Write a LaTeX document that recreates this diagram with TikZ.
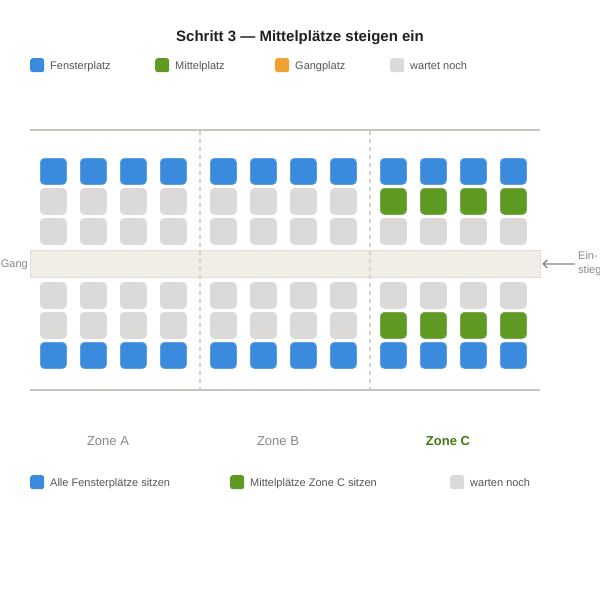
\documentclass[tikz,border=0pt]{standalone}
\usepackage{fontspec}
\setmainfont{Liberation Sans}
\usetikzlibrary{arrows.meta}
\definecolor{winblue}{HTML}{3A8ADE}
\definecolor{winblueb}{HTML}{5C9EE2}
\definecolor{midgreen}{HTML}{5F9A22}
\definecolor{midgreenb}{HTML}{7BAA4A}
\definecolor{aisleor}{HTML}{F0A030}
\definecolor{waitgray}{HTML}{DCDAD8}
\definecolor{aislefill}{HTML}{F1EEE8}
\definecolor{aisleline}{HTML}{E2DED7}
\definecolor{wallgray}{HTML}{C8C4BE}
\definecolor{divgray}{HTML}{D4D0CB}
\definecolor{txtgray}{HTML}{555555}
\definecolor{lblgray}{HTML}{888888}
\definecolor{zonegreen}{HTML}{3F7A12}
\tikzset{
  seat/.style={rectangle, rounded corners=4pt, minimum width=26pt, minimum height=26pt, inner sep=0pt, anchor=north west},
  blueseat/.style={seat, fill=winblue, draw=winblueb, line width=0.8pt},
  greenseat/.style={seat, fill=midgreen, draw=midgreenb, line width=0.8pt},
  grayseat/.style={seat, fill=waitgray, draw=waitgray, line width=0.8pt},
  legsq/.style={rectangle, rounded corners=2.5pt, minimum width=14pt, minimum height=14pt, inner sep=0pt, anchor=north west},
  legtxt/.style={anchor=base west, inner sep=0pt, font=\fontsize{11}{13}\selectfont, text=txtgray},
  zonelbl/.style={anchor=base, inner sep=0pt, font=\fontsize{13}{15}\selectfont, text=lblgray},
  sidelbl/.style={inner sep=0pt, font=\fontsize{11}{13}\selectfont, text=lblgray},
}
\begin{document}
\begin{tikzpicture}[x=1pt,y=-1pt]
\useasboundingbox (0,0) rectangle (600,600);
\fill[white] (0,0) rectangle (600,600);
% title
\node[anchor=base, inner sep=0pt, font=\fontsize{15}{18}\selectfont\bfseries, text=black!87] (title) at (300,41) {Schritt 3 — Mittelplätze steigen ein};
% top legend
\node[legsq, fill=winblue] (lq1) at (30,58) {};
\node[legtxt] (lt1) at (50,69) {Fensterplatz};
\node[legsq, fill=midgreen] (lq2) at (155,58) {};
\node[legtxt] (lt2) at (175,69) {Mittelplatz};
\node[legsq, fill=aisleor] (lq3) at (275,58) {};
\node[legtxt] (lt3) at (295,69) {Gangplatz};
\node[legsq, fill=waitgray] (lq4) at (390,58) {};
\node[legtxt] (lt4) at (410,69) {wartet noch};
% walls
\draw[wallgray, line width=1.8pt] (30,130) -- (540,130);
\draw[wallgray, line width=1.8pt] (30,390) -- (540,390);
% aisle
\node[rectangle, fill=aislefill, draw=aisleline, line width=0.8pt, minimum width=510pt, minimum height=27pt, inner sep=0pt, anchor=north west] (aisle) at (30,250) {};
% dividers
\draw[divgray, line width=1.5pt, dash pattern=on 4pt off 4pt] (200,131) -- (200,389);
\draw[divgray, line width=1.5pt, dash pattern=on 4pt off 4pt] (370,131) -- (370,389);
% seats
\foreach \z/\zx in {A/40,B/210,C/380}{
  \foreach \c in {0,1,2,3}{
    \pgfmathsetmacro{\xx}{\zx+40*\c}
    \node[blueseat] (s-\z-\c-1) at (\xx,158) {};
    \node[blueseat] (s-\z-\c-6) at (\xx,342) {};
    \node[grayseat] (s-\z-\c-3) at (\xx,218) {};
    \node[grayseat] (s-\z-\c-4) at (\xx,282) {};
  }
}
\foreach \z/\zx in {A/40,B/210}{
  \foreach \c in {0,1,2,3}{
    \pgfmathsetmacro{\xx}{\zx+40*\c}
    \node[grayseat] (s-\z-\c-2) at (\xx,188) {};
    \node[grayseat] (s-\z-\c-5) at (\xx,312) {};
  }
}
\foreach \c in {0,1,2,3}{
  \pgfmathsetmacro{\xx}{380+40*\c}
  \node[greenseat] (s-C-\c-2) at (\xx,188) {};
  \node[greenseat] (s-C-\c-5) at (\xx,312) {};
}
% side labels
\node[sidelbl, anchor=base east] (gang) at (28,267) {Gang};
\node[sidelbl, anchor=base west] (ein1) at (578,259) {Ein-};
\node[sidelbl, anchor=base west] (ein2) at (578,273) {stieg};
\coordinate (arrstart) at (575,264);
\draw[lblgray, line width=1.3pt, -{Straight Barb[length=4pt,width=8pt]}, shorten >=1.5pt] (arrstart) -- (aisle.east);
% zone labels
\node[zonelbl] (za) at (108,445) {Zone A};
\node[zonelbl] (zb) at (278,445) {Zone B};
\node[zonelbl, font=\fontsize{13}{15}\selectfont\bfseries, text=zonegreen] (zc) at (448,445) {Zone C};
% bottom legend
\node[legsq, fill=winblue] (bq1) at (30,475) {};
\node[legtxt] (bt1) at (50,486) {Alle Fensterplätze sitzen};
\node[legsq, fill=midgreen] (bq2) at (230,475) {};
\node[legtxt] (bt2) at (250,486) {Mittelplätze Zone C sitzen};
\node[legsq, fill=waitgray] (bq3) at (450,475) {};
\node[legtxt] (bt3) at (470,486) {warten noch};
\end{tikzpicture}
\end{document}
